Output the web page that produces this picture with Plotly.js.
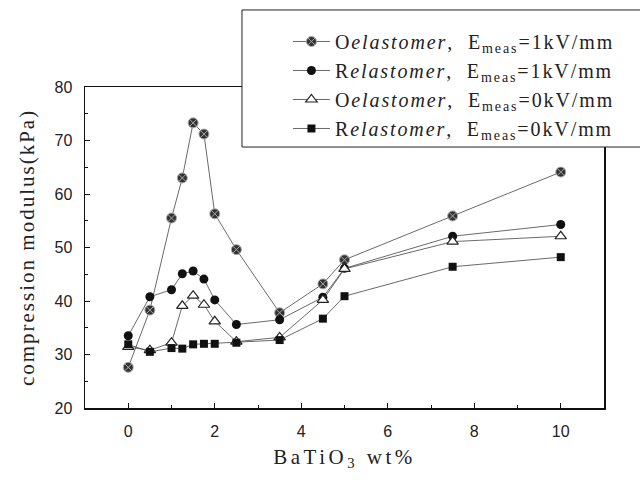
<!DOCTYPE html>
<html>
<head>
<meta charset="utf-8">
<script src="https://cdn.plot.ly/plotly-3.0.1.min.js"></script>
<style>
  html, body { margin: 0; padding: 0; background: #fff; }
  #chart { width: 640px; height: 482px; }
  .ytitle { letter-spacing: 2px; }
  .xtitle { letter-spacing: 3.5px; }
  .legendtext { letter-spacing: 1.9px; }
</style>
</head>
<body>
<div id="chart"></div>
<script>
// BaTiO3 content (wt%)
const batio3 = [0, 0.5, 1, 1.25, 1.5, 1.75, 2, 2.5, 3.5, 4.5, 5, 7.5, 10];
// compression modulus (kPa)
const oElast1kV = [27.6, 38.3, 55.5, 63.0, 73.3, 71.2, 56.3, 49.6, 37.8, 43.2, 47.7, 55.9, 64.1];
const rElast1kV = [33.5, 40.8, 42.1, 45.1, 45.6, 44.1, 40.2, 35.6, 36.5, 40.7, 46.1, 52.1, 54.3];
const oElast0kV = [31.4, 30.8, 32.2, 39.1, 41.0, 39.3, 36.2, 32.4, 33.2, 40.2, 46.0, 51.1, 52.1];
const rElast0kV = [31.9, 30.5, 31.2, 31.1, 31.9, 32.0, 32.0, 32.2, 32.7, 36.7, 40.9, 46.4, 48.2];
const seriesNames = [
  "O<i>elastomer</i>,  E<sub>meas</sub>=1kV/mm",
  "R<i>elastomer</i>,  E<sub>meas</sub>=1kV/mm",
  "O<i>elastomer</i>,  E<sub>meas</sub>=0kV/mm",
  "R<i>elastomer</i>,  E<sub>meas</sub>=0kV/mm"
];
const xTickVals = [0, 2, 4, 6, 8, 10];
const yTickVals = [20, 30, 40, 50, 60, 70, 80];

const lineStyle = {color: '#444', width: 0.8};
const traces = [
  {x: batio3, y: oElast1kV, name: seriesNames[0], mode: 'lines+markers', line: lineStyle,
   marker: {symbol: 'circle-x', size: 10, color: '#333', line: {color: '#aaa', width: 1}}},
  {x: batio3, y: rElast1kV, name: seriesNames[1], mode: 'lines+markers', line: lineStyle,
   marker: {symbol: 'circle', size: 9, color: '#111'}},
  {x: batio3, y: oElast0kV, name: seriesNames[2], mode: 'lines+markers', line: lineStyle,
   marker: {symbol: 'triangle-up', size: 10, color: '#fff', line: {color: '#222', width: 1.2}}},
  {x: batio3, y: rElast0kV, name: seriesNames[3], mode: 'lines+markers', line: lineStyle,
   marker: {symbol: 'square', size: 8, color: '#111'}}
];

const serifFamily = 'Liberation Serif, Tinos, Times New Roman, Times, DejaVu Serif, serif';
const tickFont = {family: 'Liberation Sans, Arimo, Arial, sans-serif', size: 16, color: '#222'};
const titleFont = {family: serifFamily, size: 21, color: '#222'};

const layout = {
  width: 640, height: 482,
  margin: {l: 85, r: 36, t: 87, b: 74, autoexpand: false},
  paper_bgcolor: '#fff', plot_bgcolor: '#fff',
  showlegend: true,
  xaxis: {
    range: [-1, 11], tickmode: 'array', tickvals: xTickVals, ticktext: xTickVals.map(String),
    ticks: 'inside', ticklen: 5, tickwidth: 1, tickcolor: '#111',
    minor: {dtick: 1, tick0: 0, ticks: 'inside', ticklen: 3, tickcolor: '#111'},
    showline: true, mirror: true, linecolor: '#111', linewidth: 1.5,
    showgrid: false, zeroline: false, tickfont: tickFont, ticklabelstandoff: 8,
    title: {text: 'BaTiO<sub>3</sub> wt%', font: titleFont, standoff: 10}
  },
  yaxis: {
    range: [20, 80], tickmode: 'array', tickvals: yTickVals, ticktext: yTickVals.map(String),
    ticks: 'inside', ticklen: 5, tickwidth: 1, tickcolor: '#111',
    minor: {dtick: 5, tick0: 0, ticks: 'inside', ticklen: 3, tickcolor: '#111'},
    showline: true, mirror: true, linecolor: '#111', linewidth: 1.5,
    showgrid: false, zeroline: false, tickfont: tickFont, ticklabelstandoff: 8,
    title: {text: 'compression modulus(kPa)', font: titleFont, standoff: 14}
  },
  legend: {
    x: 0.391, xanchor: 'left', y: 1.2025, yanchor: 'top',
    bgcolor: 'rgba(0,0,0,0)', borderwidth: 0, itemwidth: 37,
    font: {family: serifFamily, size: 20, color: '#222'}
  },
  shapes: [{
    type: 'rect', xref: 'paper', yref: 'paper', layer: 'above',
    x0: 0.3025, x1: 1.3, y0: 0.813, y1: 1.24,
    fillcolor: '#fff', line: {color: '#222', width: 1}
  }]
};

Plotly.newPlot('chart', traces, layout, {staticPlot: true, displayModeBar: false});
</script>
</body>
</html>
